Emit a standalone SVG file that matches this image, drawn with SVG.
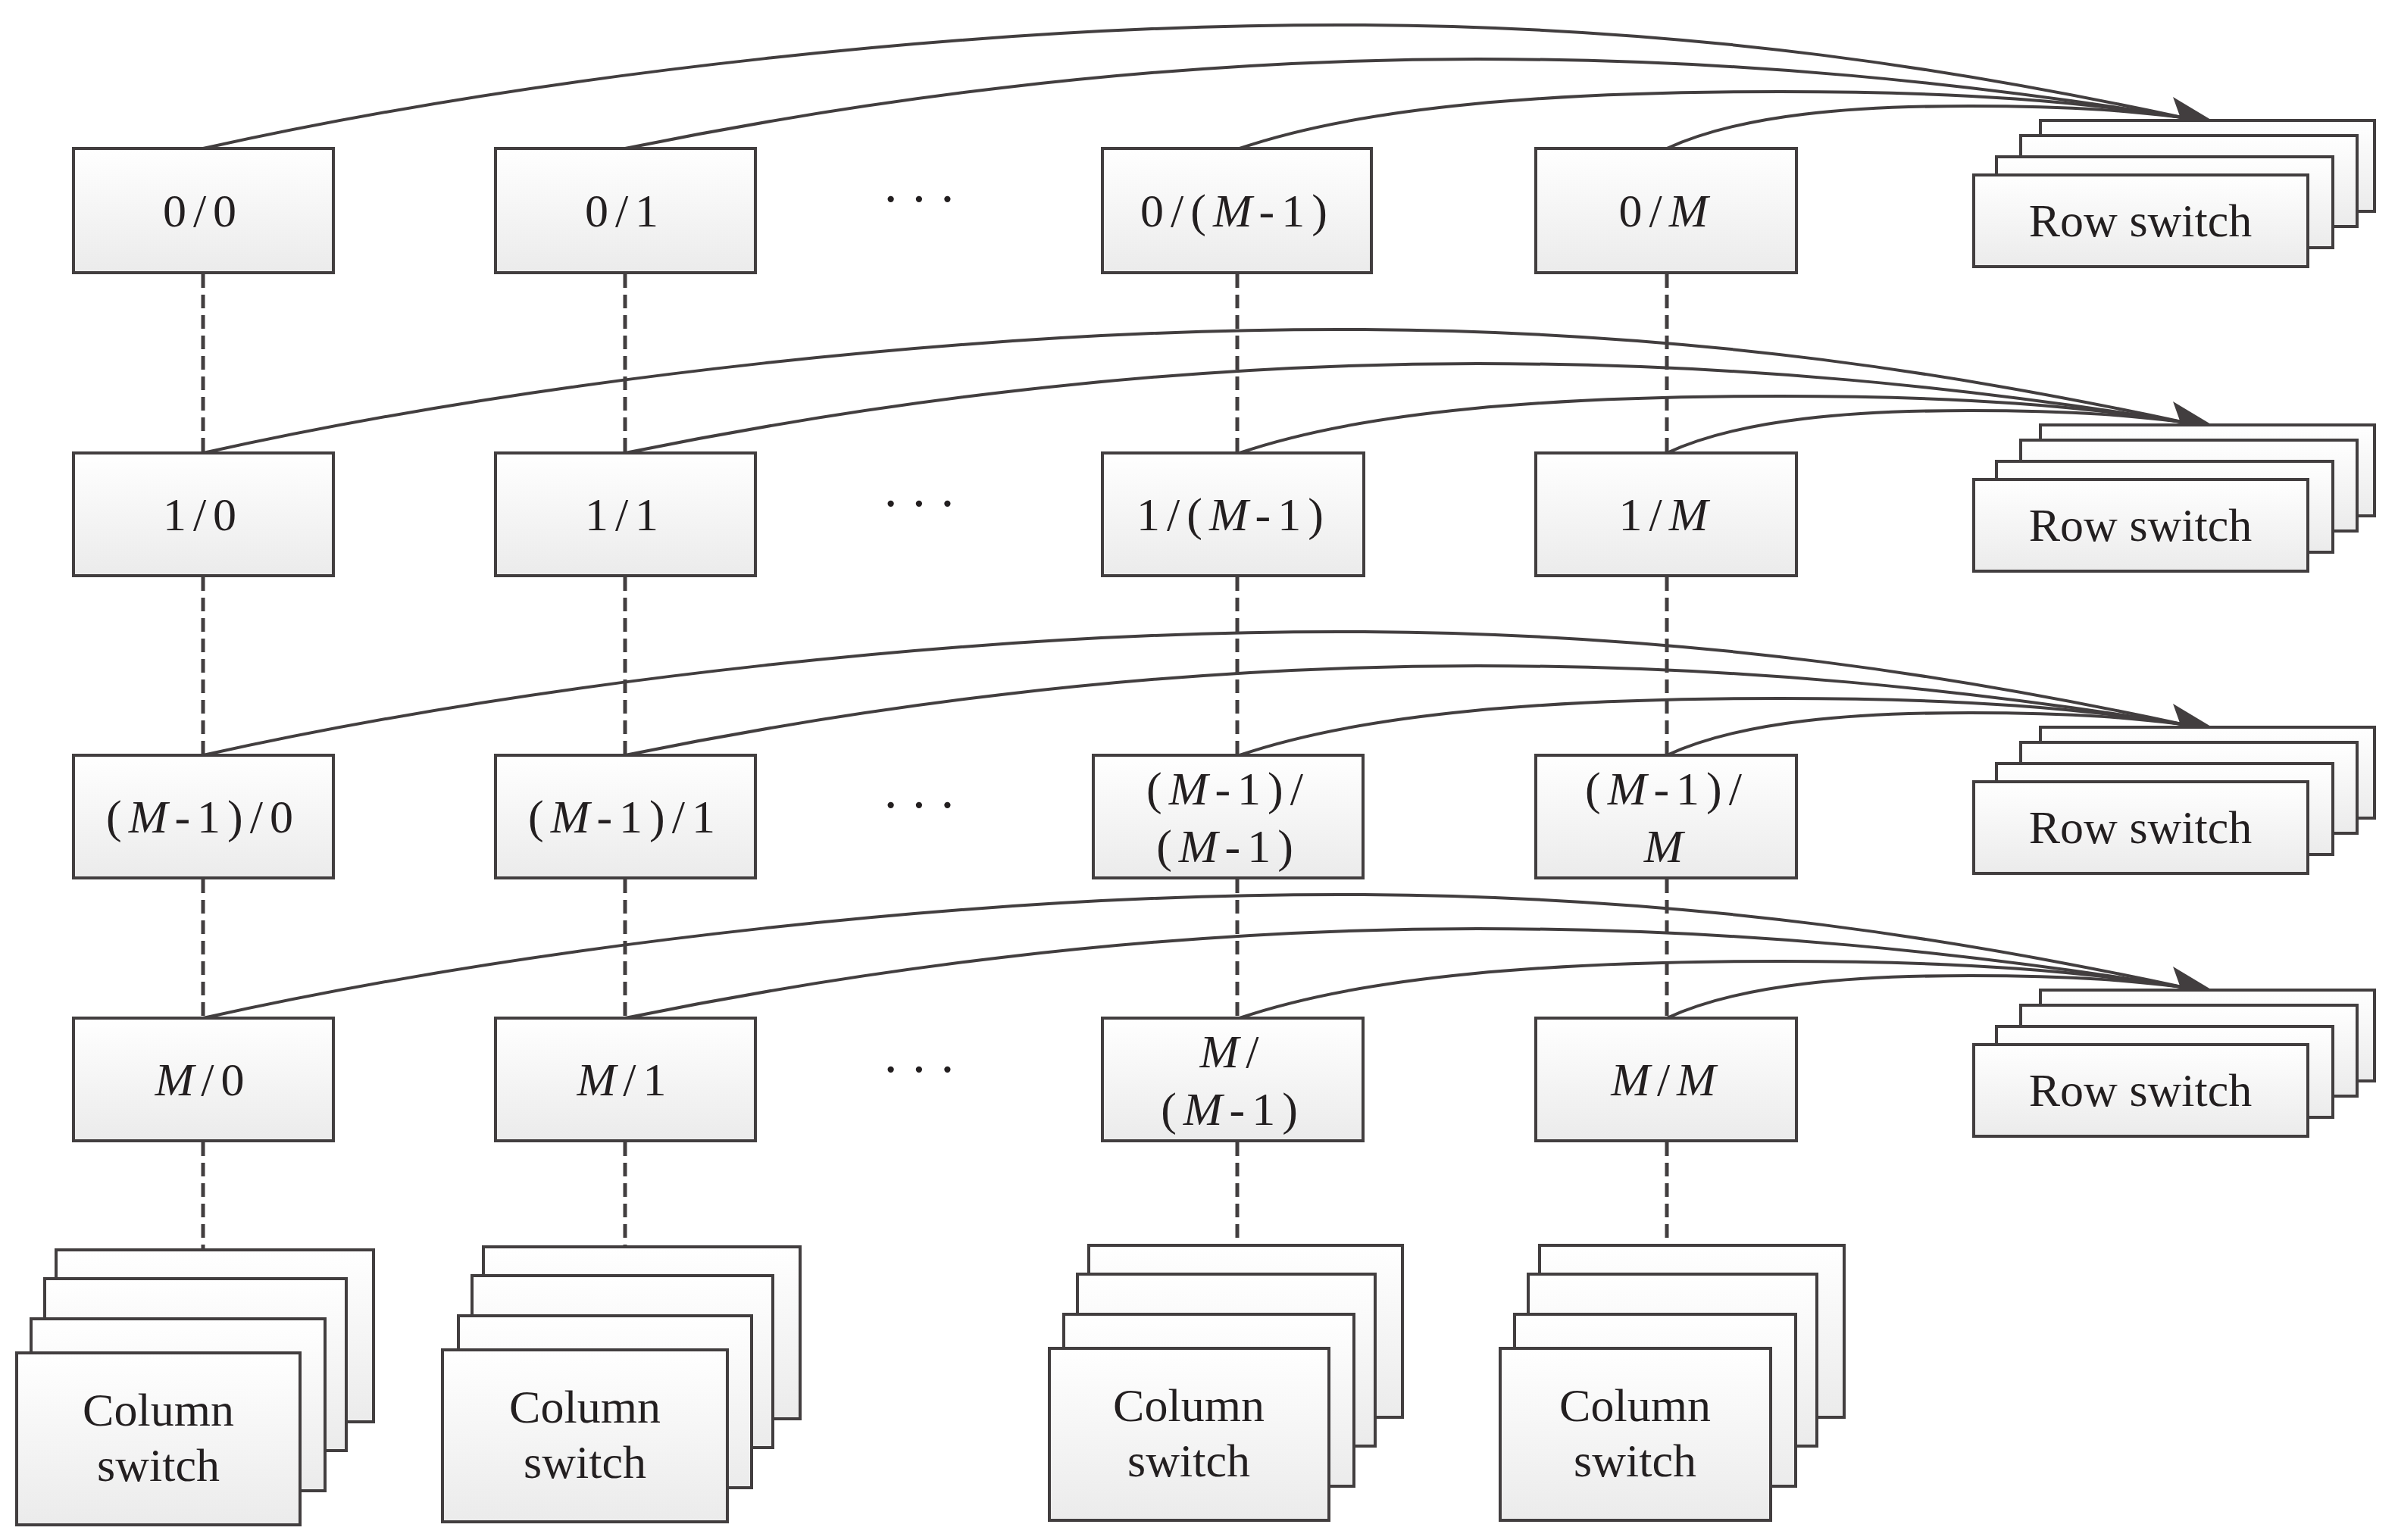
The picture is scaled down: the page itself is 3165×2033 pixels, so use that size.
<svg xmlns="http://www.w3.org/2000/svg" width="3165" height="2033" viewBox="0 0 3165 2033">
<defs>
<linearGradient id="g" x1="0" y1="0" x2="0" y2="1"><stop offset="0" stop-color="#ffffff"/><stop offset="1" stop-color="#ebebeb"/></linearGradient>
<style>
.b{fill:url(#g);stroke:#423e3f;stroke-width:4}
.t{font-family:"Liberation Serif",serif;font-size:62px;fill:#231f20;text-anchor:middle;letter-spacing:9px}
.d{stroke:#423e3f;stroke-width:5;stroke-dasharray:18 9;fill:none}
.c{stroke:#423e3f;stroke-width:4;fill:none}
.a{fill:#423e3f}
.m{font-style:italic}
.n{letter-spacing:0}
.e{letter-spacing:14px;font-size:70px}
</style>
<g id="curve-row"><path class="c" d="M268,196 C700,100 1300,30 1800,33 C2250,36 2600,95 2880,155"/><path class="c" d="M825,196 C1100,140 1500,78 1950,78 C2300,78 2600,110 2880,155"/><path class="c" d="M1636,196 C1800,140 2050,121 2350,121 C2600,121 2750,135 2880,155"/><path class="c" d="M2200,196 C2300,150 2450,140 2600,140 C2750,140 2820,148 2880,155"/><polygon class="a" points="2918,158 2868,128 2878,156 2864,178"/></g>
<g id="rs"><rect class="b" x="2693" y="159" width="441" height="120"/><rect class="b" x="2667" y="179" width="444" height="120"/><rect class="b" x="2635" y="207" width="444" height="120"/><rect class="b" x="2605" y="231" width="441" height="121"/><text class="t n" x="2825" y="312">Row switch</text></g>
</defs>
<rect width="3165" height="2033" fill="#fff"/>
<g id="connectors">
<use href="#curve-row"/>
<use href="#curve-row" y="402"/>
<use href="#curve-row" y="801"/>
<use href="#curve-row" y="1148"/>
<path class="d" d="M268,362V598M268,762V997M268,1161V1344M268,1508V1650"/>
<path class="d" d="M825,362V598M825,762V997M825,1161V1344M825,1508V1646"/>
<path class="d" d="M1633,362V598M1633,762V997M1633,1161V1344M1633,1508V1644"/>
<path class="d" d="M2200,362V598M2200,762V997M2200,1161V1344M2200,1508V1644"/>
</g>
<g id="n00"><rect class="b" x="97" y="196" width="343" height="164"/><text class="t" x="268" y="299">0/0</text></g>
<g id="n01"><rect class="b" x="654" y="196" width="343" height="164"/><text class="t" x="825" y="299">0/1</text></g>
<g id="n0m1"><rect class="b" x="1455" y="196" width="355" height="164"/><text class="t" x="1633" y="299">0/(<tspan class="m">M</tspan>-1)</text></g>
<g id="n0m"><rect class="b" x="2027" y="196" width="344" height="164"/><text class="t" x="2200" y="299">0/<tspan class="m">M</tspan></text></g>
<g id="n10"><rect class="b" x="97" y="598" width="343" height="162"/><text class="t" x="268" y="700">1/0</text></g>
<g id="n11"><rect class="b" x="654" y="598" width="343" height="162"/><text class="t" x="825" y="700">1/1</text></g>
<g id="n1m1"><rect class="b" x="1455" y="598" width="345" height="162"/><text class="t" x="1628" y="700">1/(<tspan class="m">M</tspan>-1)</text></g>
<g id="n1m"><rect class="b" x="2027" y="598" width="344" height="162"/><text class="t" x="2200" y="700">1/<tspan class="m">M</tspan></text></g>
<g id="n20"><rect class="b" x="97" y="997" width="343" height="162"/><text class="t" x="268" y="1099">(<tspan class="m">M</tspan>-1)/0</text></g>
<g id="n21"><rect class="b" x="654" y="997" width="343" height="162"/><text class="t" x="825" y="1099">(<tspan class="m">M</tspan>-1)/1</text></g>
<g id="n2m1"><rect class="b" x="1443" y="997" width="356" height="162"/><text class="t" x="1621" y="1062">(<tspan class="m">M</tspan>-1)/</text><text class="t" x="1621" y="1138">(<tspan class="m">M</tspan>-1)</text></g>
<g id="n2m"><rect class="b" x="2027" y="997" width="344" height="162"/><text class="t" x="2200" y="1062">(<tspan class="m">M</tspan>-1)/</text><text class="t" x="2200" y="1138"><tspan class="m">M</tspan></text></g>
<g id="n30"><rect class="b" x="97" y="1344" width="343" height="162"/><text class="t" x="268" y="1446"><tspan class="m">M</tspan>/0</text></g>
<g id="n31"><rect class="b" x="654" y="1344" width="343" height="162"/><text class="t" x="825" y="1446"><tspan class="m">M</tspan>/1</text></g>
<g id="n3m1"><rect class="b" x="1455" y="1344" width="344" height="162"/><text class="t" x="1627" y="1409"><tspan class="m">M</tspan>/</text><text class="t" x="1627" y="1485">(<tspan class="m">M</tspan>-1)</text></g>
<g id="n3m"><rect class="b" x="2027" y="1344" width="344" height="162"/><text class="t" x="2200" y="1446"><tspan class="m">M</tspan>/<tspan class="m">M</tspan></text></g>
<g id="dots"><text class="t e" x="1220" y="286">···</text><text class="t e" x="1220" y="688">···</text><text class="t e" x="1220" y="1086">···</text><text class="t e" x="1220" y="1435">···</text></g>
<g id="row-switch-0"><use href="#rs"/></g>
<g id="row-switch-1"><use href="#rs" y="402"/></g>
<g id="row-switch-2"><use href="#rs" y="801"/></g>
<g id="row-switch-3"><use href="#rs" y="1148"/></g>
<g id="col-switch-0"><rect class="b" x="74" y="1650" width="419" height="227"/><rect class="b" x="59" y="1688" width="398" height="227"/><rect class="b" x="41" y="1741" width="388" height="227"/><rect class="b" x="22" y="1786" width="374" height="227"/><text class="t n" x="209" y="1882">Column</text><text class="t n" x="209" y="1955">switch</text></g>
<g id="col-switch-1"><rect class="b" x="638" y="1646" width="418" height="227"/><rect class="b" x="623" y="1684" width="397" height="227"/><rect class="b" x="605" y="1737" width="387" height="227"/><rect class="b" x="584" y="1782" width="376" height="227"/><text class="t n" x="772" y="1878">Column</text><text class="t n" x="772" y="1951">switch</text></g>
<g id="col-switch-2"><rect class="b" x="1437" y="1644" width="414" height="227"/><rect class="b" x="1422" y="1682" width="393" height="227"/><rect class="b" x="1404" y="1735" width="383" height="227"/><rect class="b" x="1385" y="1780" width="369" height="227"/><text class="t n" x="1569" y="1876">Column</text><text class="t n" x="1569" y="1949">switch</text></g>
<g id="col-switch-3"><rect class="b" x="2032" y="1644" width="402" height="227"/><rect class="b" x="2017" y="1682" width="381" height="227"/><rect class="b" x="1999" y="1735" width="371" height="227"/><rect class="b" x="1980" y="1780" width="357" height="227"/><text class="t n" x="2158" y="1876">Column</text><text class="t n" x="2158" y="1949">switch</text></g>
</svg>
